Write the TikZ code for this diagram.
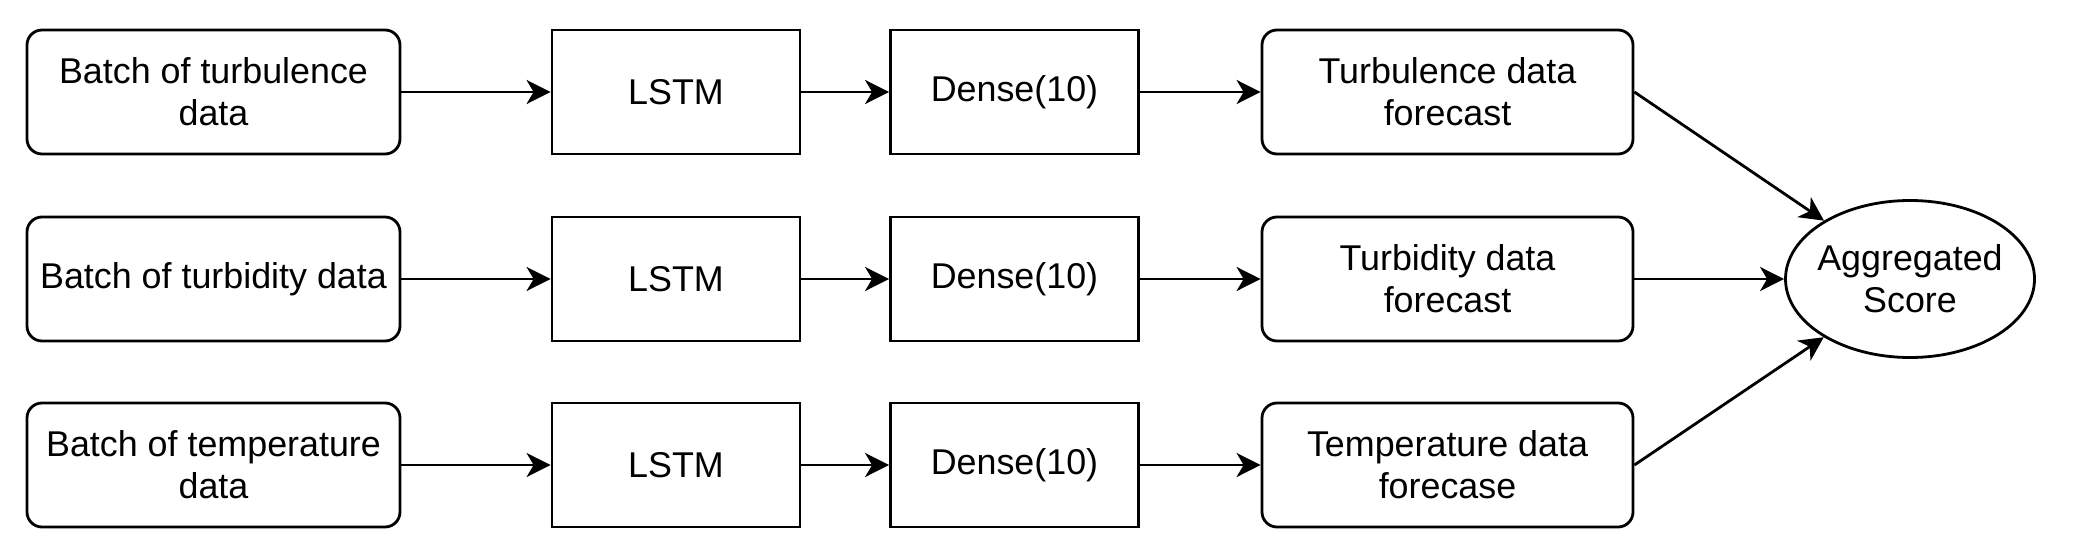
\documentclass[tikz,border=0pt]{standalone}
\usepackage{fontspec}
\setmainfont{Liberation Sans}
\usetikzlibrary{arrows.meta,shapes.geometric}

\tikzset{
  every node/.style={font=\fontsize{10.2pt}{11.9pt}\selectfont, align=center, inner sep=0pt},
  databox/.style={draw, line width=0.028cm, rounded corners=0.15cm, minimum width=3.73cm, minimum height=1.24cm},
  layerbox/.style={draw, line width=0.028cm, minimum width=2.48cm, minimum height=1.24cm},
  scorenode/.style={draw, ellipse, line width=0.028cm, inner xsep=-0.08cm, minimum width=2.49cm, minimum height=1.57cm},
  flow/.style={-{Stealth[length=0.24cm, width=0.24cm, inset=0.07cm]}, line width=0.028cm}
}

\begin{document}
\begin{tikzpicture}

\useasboundingbox (0, 0) rectangle (20.84, -5.6);

\def\ya{-0.92}; % row 1
\def\yb{-2.79}; % row 2
\def\yc{-4.65}; % row 3

\def\xin{2.135}; % input batches
\def\xlstm{6.76};
\def\xdense{10.145};
\def\xfc{14.475}; % forecasts
\def\xagg{19.1};

% inputs
\node[databox] at (\xin, \ya) (in1) {Batch of turbulence\\data};
\node[databox] at (\xin, \yb) (in2) {Batch of turbidity data};
\node[databox] at (\xin, \yc) (in3) {Batch of temperature\\data};

% layers
\node[layerbox] at (\xlstm, \ya) (lstm1) {LSTM};
\node[layerbox] at (\xlstm, \yb) (lstm2) {LSTM};
\node[layerbox] at (\xlstm, \yc) (lstm3) {LSTM};

\node[layerbox] at (\xdense, \ya) (dense1) {Dense(10)};
\node[layerbox] at (\xdense, \yb) (dense2) {Dense(10)};
\node[layerbox] at (\xdense, \yc) (dense3) {Dense(10)};

% forecasts
\node[databox, minimum width=3.71cm] at (\xfc, \ya) (fc1) {Turbulence data\\forecast};
\node[databox, minimum width=3.71cm] at (\xfc, \yb) (fc2) {Turbidity data\\forecast};
\node[databox, minimum width=3.71cm] at (\xfc, \yc) (fc3) {Temperature data\\forecase};

\node[scorenode] at (\xagg, \yb) (agg) {Aggregated\\Score};

\draw[flow] (in1) -- (lstm1);
\draw[flow] (in2) -- (lstm2);
\draw[flow] (in3) -- (lstm3);

\draw[flow] (lstm1) -- (dense1);
\draw[flow] (lstm2) -- (dense2);
\draw[flow] (lstm3) -- (dense3);

\draw[flow] (dense1) -- (fc1);
\draw[flow] (dense2) -- (fc2);
\draw[flow] (dense3) -- (fc3);

\draw[flow] (fc1.east) -- (agg);
\draw[flow] (fc2) -- (agg);
\draw[flow] (fc3.east) -- (agg);

\end{tikzpicture}
\end{document}
